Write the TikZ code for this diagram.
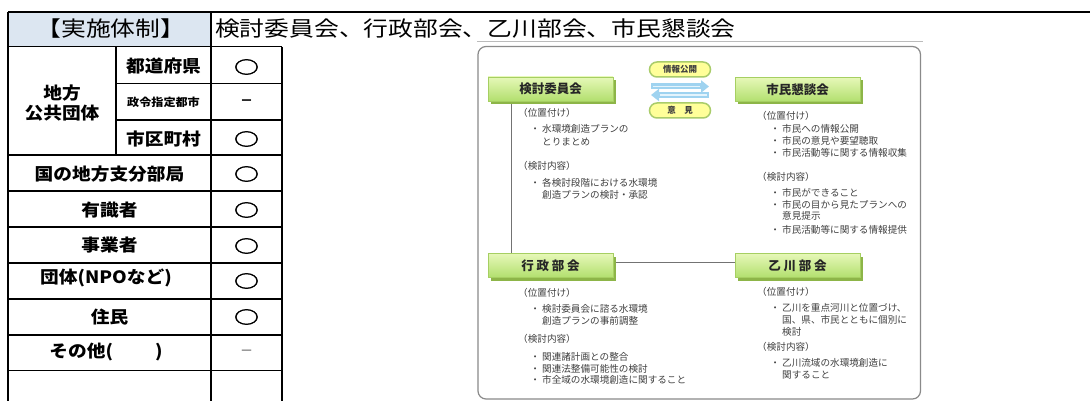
\documentclass[tikz,border=0pt]{standalone}
\usepackage{fontspec}
\setmainfont{Noto Sans CJK JP}
\newfontfamily\tblf[FakeStretch=1.1]{Noto Sans CJK JP}
\newfontfamily\hdrf[FakeStretch=1.18]{Noto Sans CJK JP}
\newfontfamily\circf[FakeStretch=1.45,FakeBold=3]{Noto Sans CJK JP}
\newfontfamily\lblw[LetterSpace=22]{Noto Sans CJK JP}
\usetikzlibrary{arrows.meta,shadows}
\definecolor{hdrblue}{HTML}{DCE6F1}
\definecolor{boxtop}{HTML}{E6F8B8}
\definecolor{boxbot}{HTML}{B2DF6E}
\definecolor{boxshadow}{HTML}{8DB548}
\definecolor{boxline}{HTML}{A6CF62}
\definecolor{pillfill}{HTML}{FFFF99}
\definecolor{pillline}{HTML}{A9CC6A}
\definecolor{arrblue}{HTML}{9FD3F0}
\definecolor{arrcore}{HTML}{E4F4FC}
\definecolor{dtext}{HTML}{404040}
\definecolor{framegray}{HTML}{8A8A8A}
\definecolor{frametop}{HTML}{BBBBBB}
\newcommand\bu{\makebox[11.75pt][l]{・}}
\newcommand\dl[4]{\node[dtxt] (#1) at (#2,#3) {#4};}
\begin{document}
\begin{tikzpicture}[x=1pt,y=-1pt,
  tline/.style={line width=1.3pt,black},
  hdr/.style={inner sep=0pt,font=\hdrf\fontsize{21}{24}\selectfont},
  cell/.style={inner sep=0pt,font=\tblf\bfseries\fontsize{17}{20}\selectfont},
  okmark/.style={inner sep=0pt,font=\circf\fontsize{17}{19}\selectfont},
  nomark/.style={inner sep=0pt,font=\bfseries\fontsize{13}{15}\selectfont},
  gbox/.style={minimum width=125pt,minimum height=24pt,inner sep=0pt,
    top color=boxtop,bottom color=boxbot,draw=boxline,line width=0.5pt,
    drop shadow={shadow xshift=3pt,shadow yshift=-3pt,fill=boxshadow,opacity=1},
    text=black!85,font=\bfseries\fontsize{12.5}{14}\selectfont},
  pill/.style={draw=pillline,line width=1.5pt,fill=pillfill,rounded corners=7.5pt,
    minimum width=61pt,minimum height=15pt,inner sep=0pt,text=black!75,
    font=\bfseries\fontsize{8.5}{10}\selectfont},
  fatarrow/.style={draw=arrblue,line width=6pt,-{Triangle[length=8pt,width=12pt]}},
  conn/.style={draw=black!55,line width=0.9pt},
  dtxt/.style={anchor=west,inner sep=0pt,text=dtext,font=\fontsize{9.6}{11}\selectfont}
]
\useasboundingbox (0,0) rectangle (1090,401);
\fill[white] (0,0) rectangle (1090,401);
% ---------- table ----------
\fill[hdrblue] (8,12) rectangle (211,46.7);
\draw[tline] (8,12) -- (1090,12);
\draw[tline] (8,12) -- (8,401);
\draw[tline] (211,12) -- (211,401);
\draw[tline] (282,46.7) -- (282,401);
\draw[tline] (116,46.7) -- (116,155);
\foreach \yy in {46.7,155,191,227,263,299,335,370.7} \draw[tline] (8,\yy) -- (282,\yy);
\foreach \yy in {83.3,120} \draw[tline] (116,\yy) -- (282,\yy);

\node[hdr] (h1) at (111,29) {【実施体制】};
\node[hdr,anchor=west] (h2) at (215,29) {検討委員会、行政部会、乙川部会、市民懇談会};

\node[cell] (r0a) at (62,93) {地方};
\node[cell] (r0b) at (62,113) {公共団体};
\node[cell] (r1) at (163.5,66.5) {都道府県};
\node[cell,font=\tblf\bfseries\fontsize{11}{13}\selectfont] (r2) at (163.5,102.5) {政令指定都市};
\node[cell] (r3) at (163.5,139) {市区町村};
\node[cell] (r4) at (109.5,174) {国の地方支分部局};
\node[cell] (r5) at (109.5,210) {有識者};
\node[cell] (r6) at (109.5,245) {事業者};
\node[cell] (r7) at (106,278) {団体(NPOなど)};
\node[cell] (r8) at (109.5,317) {住民};
\node[cell] (r9) at (106,352.5) {その他(\hspace{42pt})};

\node[okmark] (m1) at (246.5,67) {○};
\node[nomark] (m2) at (246.5,103) {－};
\node[okmark] (m3) at (246.5,139) {○};
\node[okmark] (m4) at (246.5,174) {○};
\node[okmark] (m5) at (246.5,210) {○};
\node[okmark] (m6) at (246.5,246) {○};
\node[okmark] (m7) at (246.5,281) {○};
\node[okmark] (m8) at (246.5,317) {○};
\node[nomark,font=\fontsize{13}{15}\selectfont,text=black!70] (m9) at (246.5,353) {－};

% ---------- diagram ----------
\draw[frametop,line width=0.8pt] (477,41.7) -- (923,41.7);
\draw[framegray,line width=1.2pt,rounded corners=8pt] (478,46.5) rectangle (920.5,399);

\node[gbox] (kentou) at (550.5,89) {検討委員会};
\node[gbox] (shimin) at (797.5,89.5) {市民懇談会};
\node[gbox,font=\lblw\bfseries\fontsize{12.5}{14}\selectfont] (gyousei) at (550.5,265.5) {行政部会};
\node[gbox,font=\lblw\bfseries\fontsize{12.5}{14}\selectfont] (otogawa) at (797.5,265.5) {乙川部会};

\draw[conn] ([xshift=24pt,yshift=-3pt]kentou.south west) -- ([xshift=24pt]gyousei.north west);
\draw[conn] ([xshift=3pt,yshift=3.5pt]gyousei.east) -- ([yshift=3.5pt]otogawa.west);

\node[pill] (koukai) at (680,69.5) {情報公開};
\node[pill] (iken) at (680,110.5) {意　見};
\coordinate (ra1) at (651,86.5);
\coordinate (ra2) at (709,86.5);
\coordinate (la1) at (709,95);
\coordinate (la2) at (651,95);
\draw[fatarrow] (ra1) -- (ra2);
\draw[fatarrow] (la1) -- (la2);
\draw[arrcore,line width=1.6pt] ([xshift=2pt]ra1) -- ([xshift=-9pt]ra2);
\draw[arrcore,line width=1.6pt] ([xshift=-2pt]la1) -- ([xshift=9pt]la2);

% 検討委員会
\dl{a1}{518}{113}{（位置付け）}
\dl{a2}{530.25}{129}{\bu 水環境創造プランの}
\dl{a3}{542}{141.5}{とりまとめ}
\dl{a4}{518}{166}{（検討内容）}
\dl{a5}{530.25}{183}{\bu 各検討段階における水環境}
\dl{a6}{542}{194.5}{創造プランの検討・承認}
% 市民懇談会
\dl{b1}{757}{116}{（位置付け）}
\dl{b2}{770.25}{129}{\bu 市民への情報公開}
\dl{b3}{770.25}{141}{\bu 市民の意見や要望聴取}
\dl{b4}{770.25}{153}{\bu 市民活動等に関する情報収集}
\dl{b5}{757}{177}{（検討内容）}
\dl{b6}{770.25}{193}{\bu 市民ができること}
\dl{b7}{770.25}{204.5}{\bu 市民の目から見たプランへの}
\dl{b8}{782}{216}{意見提示}
\dl{b9}{770.25}{230}{\bu 市民活動等に関する情報提供}
% 行政部会
\dl{c1}{518}{293}{（位置付け）}
\dl{c2}{530.25}{309}{\bu 検討委員会に諮る水環境}
\dl{c3}{542}{321}{創造プランの事前調整}
\dl{c4}{518}{339}{（検討内容）}
\dl{c5}{530.25}{357}{\bu 関連諸計画との整合}
\dl{c6}{530.25}{368.5}{\bu 関連法整備可能性の検討}
\dl{c7}{530.25}{380}{\bu 市全域の水環境創造に関すること}
% 乙川部会
\dl{d1}{757}{292}{（位置付け）}
\dl{d2}{770.25}{308}{\bu 乙川を重点河川と位置づけ、}
\dl{d3}{782}{320}{国、県、市民とともに個別に}
\dl{d4}{782}{332}{検討}
\dl{d5}{757}{347}{（検討内容）}
\dl{d6}{770.25}{363}{\bu 乙川流域の水環境創造に}
\dl{d7}{782}{375}{関すること}
\end{tikzpicture}
\end{document}
